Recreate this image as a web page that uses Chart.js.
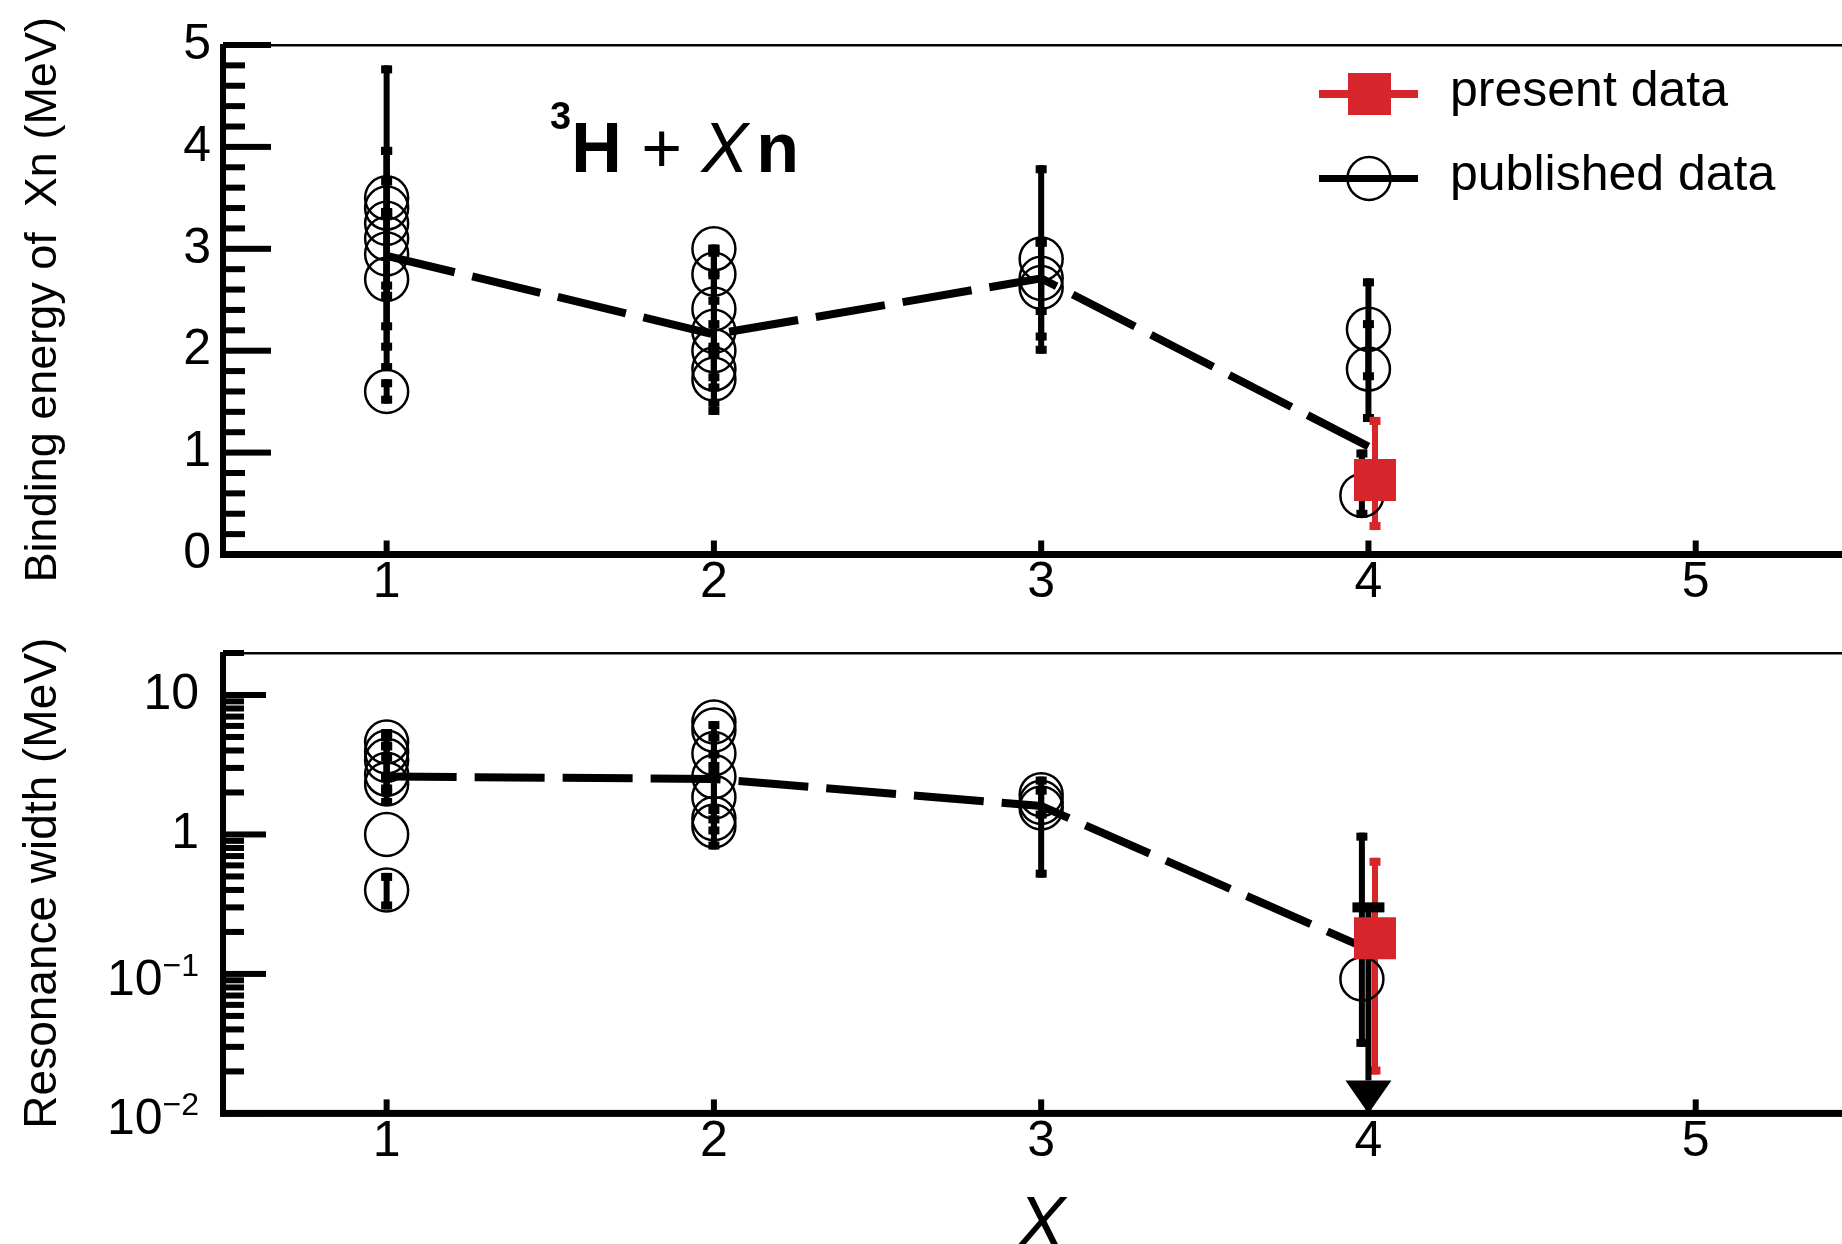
<!DOCTYPE html>
<html>
<head>
<meta charset="utf-8">
<script src="https://cdn.jsdelivr.net/npm/chart.js@4.4.1/dist/chart.umd.min.js"></script>
<style>
  html, body { margin: 0; padding: 0; background: #fff; }
  #wrap { position: relative; width: 1842px; height: 1244px; overflow: hidden; background: #fff; }
  canvas { position: absolute; left: 0; }
  #top { top: 0; }
  #bottom { top: 620px; }
</style>
</head>
<body>
<div id="wrap">
  <canvas id="top" width="1842" height="620"></canvas>
  <canvas id="bottom" width="1842" height="624"></canvas>
</div>
<script>
const xTicks = [1, 2, 3, 4, 5];

// binding energy of Xn (MeV), published values
const beX   = [1, 1, 1, 1, 1, 1, 1, 2, 2, 2, 2, 2, 2, 2, 3, 3, 3, 4, 4, 3.98];
const beVal = [3.5, 3.4, 3.25, 3.1, 2.95, 2.7, 1.6, 3.0, 2.75, 2.41, 2.19, 2.0, 1.82, 1.72, 2.9, 2.71, 2.62, 2.21, 1.82, 0.58];
const beLo  = [3.3, 2.6, 1.8, 2.2, 2.5, 2.0, 1.48, 2.7, 2.45, 2.0, 1.37, 1.7, 1.6, 1.45, 1.97, 2.35, 2.1, 1.71, 1.3, 0.36];
const beHi  = [3.7, 4.0, 4.8, 4.0, 3.4, 3.4, 1.72, 3.04, 3.04, 2.8, 3.0, 2.3, 2.05, 2.0, 3.82, 3.1, 3.1, 2.71, 2.3, 1.03];
const beMeanX = [1, 2, 3, 4];
const beMean  = [2.93, 2.16, 2.71, 1.06];
// present measurement
const bePresentX = [4.02];
const bePresent  = [0.73];
const bePresentLo = [0.24];
const bePresentHi = [1.35];

// resonance width (MeV), published values
const wX   = [1, 1, 1, 1, 1, 1, 1, 2, 2, 2, 2, 2, 2, 2, 3, 3, 3, 3.98];
const wVal = [4.6, 3.9, 3.4, 2.7, 2.3, 1.0, 0.40, 6.4, 5.6, 3.8, 2.6, 1.85, 1.3, 1.15, 1.93, 1.7, 1.55, 0.092];
const wLo  = [4.0, 2.4, 2.0, 1.6, 1.9, null, 0.29, null, 2.9, 2.4, 1.2, 0.78, 1.0, null, 1.3, null, 0.49, 0.03];
const wHi  = [5.3, 5.7, 4.6, 3.8, 2.8, null, 0.53, null, 6.5, 5.3, 4.0, 2.9, 1.6, null, 2.6, null, 2.2, 1.03];
const wLimitX = [4];
const wLimit  = [0.3];
const wMeanX = [1, 2, 3, 4];
const wMean  = [2.6, 2.5, 1.6, 0.15];
const wPresentX = [4.02];
const wPresent  = [0.18];
const wPresentLo = [0.019];
const wPresentHi = [0.68];

// axis ticks
const beTickValues = [0, 1, 2, 3, 4, 5];
const beMinorTicks = [0.2, 0.4, 0.6, 0.8, 1.2, 1.4, 1.6, 1.8, 2.2, 2.4, 2.6, 2.8, 3.2, 3.4, 3.6, 3.8, 4.2, 4.4, 4.6, 4.8];
const wTickValues = [0.01, 0.1, 1, 10];
// [mantissa text, exponent text]
const wTickLabels = [['10', '\u22122'], ['10', '\u22121'], ['1', ''], ['10', '']];
const wMinorTicks = [0.02, 0.03, 0.04, 0.05, 0.06, 0.07, 0.08, 0.09,
                     0.2, 0.3, 0.4, 0.5, 0.6, 0.7, 0.8, 0.9,
                     2, 3, 4, 5, 6, 7, 8, 9, 20];

const RED = '#d7262b';
const FONT = "'Liberation Sans', Arial, sans-serif";

Chart.defaults.font.family = FONT;
Chart.defaults.color = '#000';

const pts = (xs, ys) => xs.map((x, i) => ({ x, y: ys[i] }));

// vertical error bars with small end caps, plus downward upper-limit arrows
const errorBars = {
  id: 'errorBars',
  beforeDatasetsDraw(chart, args, opts) {
    const { ctx, chartArea: a, scales: { x, y } } = chart;
    ctx.save();
    for (const s of opts.sets) {
      ctx.fillStyle = s.color;
      s.x.forEach((xv, i) => {
        if (s.lo[i] == null) return;
        const px = x.getPixelForValue(xv);
        const top = y.getPixelForValue(s.hi[i]);
        const bot = y.getPixelForValue(s.lo[i]);
        ctx.fillRect(px - 3, top, 6, bot - top);
        ctx.fillRect(px - 5.5, top, 11, 8);
        ctx.fillRect(px - 5.5, bot - 8, 11, 8);
      });
    }
    if (opts.limits) {
      const l = opts.limits;
      ctx.fillStyle = '#000';
      l.x.forEach((xv, i) => {
        const px = x.getPixelForValue(xv);
        const py = y.getPixelForValue(l.y[i]);
        const tipY = a.bottom;
        const baseY = tipY - 33;
        ctx.fillRect(px - 16, py - 5, 32, 10);
        ctx.fillRect(px - 3, py, 6, baseY - py);
        ctx.beginPath();
        ctx.moveTo(px - 23, baseY);
        ctx.lineTo(px + 23, baseY);
        ctx.lineTo(px, tipY);
        ctx.closePath();
        ctx.fill();
      });
    }
    ctx.restore();
  }
};

// heavy axes with inward tick marks and a thin top edge
const frame = {
  id: 'frame',
  afterDraw(chart, args, o) {
    const { ctx, chartArea: a, scales: { x, y } } = chart;
    ctx.save();
    ctx.fillStyle = '#000';
    ctx.fillRect(a.left, a.top - 1, a.right - a.left, 2.5);
    ctx.fillRect(a.left - 3, a.top - 1, 6, a.bottom - a.top + 4);
    ctx.fillRect(a.left - 3, a.bottom - 3.5, a.right - a.left + 3, 7);
    o.major.forEach(v => {
      const py = y.getPixelForValue(v);
      ctx.fillRect(a.left, py - 3, o.majorLen, 6);
    });
    o.minor.forEach(v => {
      const py = y.getPixelForValue(v);
      ctx.fillRect(a.left, py - 3, o.minorLen, 6);
    });
    xTicks.forEach(v => {
      const px = x.getPixelForValue(v);
      ctx.fillRect(px - 3, a.bottom - 14, 6, 14);
    });
    // power-of-ten labels with raised exponents
    if (o.labels) {
      const right = a.left - 24;
      ctx.textAlign = 'right';
      o.major.forEach((v, i) => {
        const [base, exp] = o.labels[i];
        const py = y.getPixelForValue(v);
        let edge = right;
        if (exp) {
          ctx.font = `32px ${FONT}`;
          ctx.textBaseline = 'alphabetic';
          ctx.fillText(exp, right, py + 2);
          edge -= ctx.measureText(exp).width;
        }
        ctx.font = `50px ${FONT}`;
        ctx.textBaseline = 'middle';
        ctx.fillText(base, edge, exp ? py + 7 : py);
      });
    }
    ctx.restore();
  }
};

// reaction label and legend in the upper panel
const annotations = {
  id: 'annotations',
  afterDraw(chart) {
    const ctx = chart.ctx;
    ctx.save();
    ctx.fillStyle = '#000';
    ctx.textBaseline = 'alphabetic';
    ctx.textAlign = 'left';
    let tx = 550;
    ctx.font = `bold 38px ${FONT}`;
    ctx.fillText('3', tx, 129);
    tx += ctx.measureText('3').width;
    ctx.font = `bold 70px ${FONT}`;
    ctx.fillText('H', tx, 172);
    tx += ctx.measureText('H').width;
    ctx.font = `70px ${FONT}`;
    ctx.fillText(' + ', tx, 172);
    tx += ctx.measureText(' + ').width;
    ctx.font = `italic 70px ${FONT}`;
    ctx.fillText('X', tx, 172);
    tx += ctx.measureText('X').width + 8;
    ctx.font = `bold 70px ${FONT}`;
    ctx.fillText('n', tx, 172);

    // legend
    ctx.fillStyle = RED;
    ctx.fillRect(1319, 90, 99, 8);
    ctx.fillRect(1348, 73, 43, 42);
    ctx.fillStyle = '#000';
    ctx.fillRect(1319, 175, 99, 7);
    ctx.beginPath();
    ctx.arc(1369, 178.5, 21.5, 0, Math.PI * 2);
    ctx.lineWidth = 2.5;
    ctx.strokeStyle = '#000';
    ctx.stroke();
    ctx.font = `50px ${FONT}`;
    ctx.fillText('present data', 1450, 106);
    ctx.fillText('published data', 1450, 190);
    ctx.restore();
  }
};

const xTitle = {
  id: 'xTitle',
  afterDraw(chart) {
    const { ctx, scales: { x } } = chart;
    ctx.save();
    ctx.fillStyle = '#000';
    ctx.font = `italic 72px ${FONT}`;
    ctx.textAlign = 'center';
    ctx.textBaseline = 'alphabetic';
    ctx.fillText('X', x.getPixelForValue(3), 627);
    ctx.restore();
  }
};

function xScale(height) {
  return {
    type: 'linear',
    min: 0.5,
    max: 5.447,
    grid: { display: false, drawTicks: false },
    border: { display: false },
    ticks: { font: { size: 50, lineHeight: 1 }, padding: 4, color: '#000' },
    afterBuildTicks: s => { s.ticks = xTicks.map(v => ({ value: v })); },
    afterFit: s => { s.height = height; s.paddingLeft = 0; s.paddingRight = 0; }
  };
}

function datasets(presX, pres, meanX, mean, pubX, pub) {
  return [
    {
      label: 'present data',
      data: pts(presX, pres),
      pointStyle: 'rect',
      pointRadius: 29.7,
      backgroundColor: RED,
      borderWidth: 0
    },
    {
      label: 'average',
      data: pts(meanX, mean),
      showLine: true,
      borderColor: '#000',
      borderWidth: 8,
      borderDash: [70, 18],
      pointRadius: 0,
      fill: false
    },
    {
      label: 'published data',
      data: pts(pubX, pub),
      pointStyle: 'circle',
      pointRadius: 21.5,
      borderColor: '#000',
      borderWidth: 2.5,
      backgroundColor: 'rgba(0,0,0,0)'
    }
  ];
}

const common = {
  responsive: false,
  animation: false,
  events: [],
  devicePixelRatio: 1
};

new Chart(document.getElementById('top').getContext('2d'), {
  type: 'scatter',
  data: { datasets: datasets(bePresentX, bePresent, beMeanX, beMean, beX, beVal) },
  options: {
    ...common,
    layout: { autoPadding: false, padding: { top: 45, left: 0, right: 0, bottom: 0 } },
    scales: {
      x: xScale(65.5),
      y: {
        type: 'linear',
        min: 0,
        max: 5,
        grid: { display: false, drawTicks: false },
        border: { display: false },
        ticks: { font: { size: 50 }, padding: 12, color: '#000' },
        afterBuildTicks: s => { s.ticks = beTickValues.map(v => ({ value: v })); },
        afterFit: s => { s.width = 223; },
        title: {
          display: true,
          text: 'Binding energy of  Xn (MeV)',
          font: { size: 45 },
          color: '#000',
          padding: { top: 17, bottom: 0 }
        }
      }
    },
    plugins: {
      legend: { display: false },
      tooltip: { enabled: false },
      errorBars: {
        sets: [
          { x: beX, lo: beLo, hi: beHi, color: '#000' },
          { x: bePresentX, lo: bePresentLo, hi: bePresentHi, color: RED }
        ]
      },
      frame: { major: beTickValues, minor: beMinorTicks, majorLen: 48, minorLen: 22 }
    }
  },
  plugins: [errorBars, frame, annotations]
});

new Chart(document.getElementById('bottom').getContext('2d'), {
  type: 'scatter',
  data: { datasets: datasets(wPresentX, wPresent, wMeanX, wMean, wX, wVal) },
  options: {
    ...common,
    layout: { autoPadding: false, padding: { top: 33, left: 0, right: 0, bottom: 0 } },
    scales: {
      x: xScale(130.6),
      y: {
        type: 'logarithmic',
        min: 0.01,
        max: 20,
        grid: { display: false, drawTicks: false },
        border: { display: false },
        ticks: { display: false },
        afterBuildTicks: s => { s.ticks = wTickValues.map(v => ({ value: v })); },
        afterFit: s => { s.width = 223; },
        title: {
          display: true,
          text: 'Resonance width (MeV)',
          font: { size: 46 },
          color: '#000',
          padding: { top: 16, bottom: 0 }
        }
      }
    },
    plugins: {
      legend: { display: false },
      tooltip: { enabled: false },
      errorBars: {
        sets: [
          { x: wX, lo: wLo, hi: wHi, color: '#000' },
          { x: wPresentX, lo: wPresentLo, hi: wPresentHi, color: RED }
        ],
        limits: { x: wLimitX, y: wLimit }
      },
      frame: { major: wTickValues, minor: wMinorTicks, majorLen: 43, minorLen: 21, labels: wTickLabels }
    }
  },
  plugins: [errorBars, frame, xTitle]
});
</script>
</body>
</html>
